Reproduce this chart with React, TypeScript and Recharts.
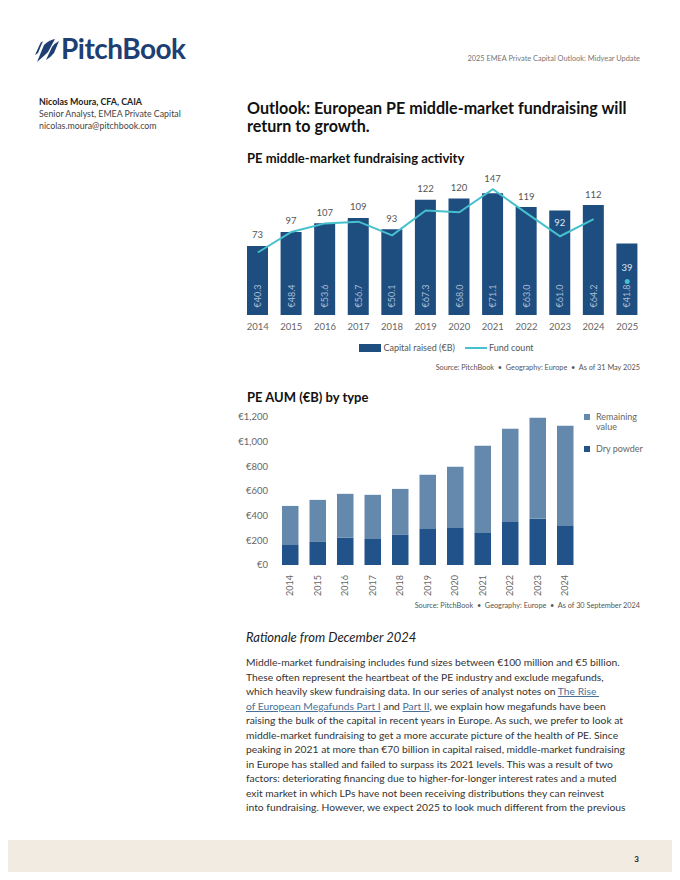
import React from 'react'
import {
  ComposedChart,
  BarChart,
  Bar,
  Line,
  XAxis,
  YAxis,
  Legend,
  LabelList,
} from 'recharts'

// PE middle-market fundraising activity
const years = ['2014', '2015', '2016', '2017', '2018', '2019', '2020', '2021', '2022', '2023', '2024', '2025']
const capitalRaised = [40.3, 48.4, 53.6, 56.7, 50.1, 67.3, 68.0, 71.1, 63.0, 61.0, 64.2, 41.8]
const fundCount = [73, 97, 107, 109, 93, 122, 120, 147, 119, 92, 112, 39]

// PE AUM by type
const aumYears = ['2014', '2015', '2016', '2017', '2018', '2019', '2020', '2021', '2022', '2023', '2024']
const dryPowder = [162, 187, 222, 211, 244, 292, 300, 260, 349, 374, 317]
const remainingValue = [317, 341, 355, 358, 373, 439, 496, 707, 756, 820, 812]
const aumTicks = [0, 200, 400, 600, 800, 1000, 1200]

const CAP_MAX = 80
const COUNT_MAX = 160
const lastYear = years.length - 1

const NAVY = '#1e4d80'
const TEAL = '#45c0cc'
const AUM_DARK = '#21528a'
const AUM_LIGHT = '#6588ad'
const GREY = '#666'
const FONT = 'Lato, "Open Sans", sans-serif'

const fundRows = years.map((year, i) => ({
  year,
  capital: capitalRaised[i],
  count: fundCount[i],
  line: i < lastYear ? fundCount[i] : null,
  partial: i === lastYear ? fundCount[i] : null,
}))

const aumRows = aumYears.map((year, i) => ({
  year,
  dry: dryPowder[i],
  remaining: remainingValue[i],
}))

const CapitalLabel = (props: any) => {
  const { x, y, width, height, value } = props
  const cx = x + width / 2
  const cy = y + height - 19
  return (
    <text
      x={cx}
      y={cy}
      transform={`rotate(-90 ${cx} ${cy})`}
      textAnchor="middle"
      dominantBaseline="central"
      fill="#a9bdd4"
      fontSize={9}
      fontFamily={FONT}
    >
      €{Number(value).toFixed(1)}
    </text>
  )
}

// fund count sits above the bar, or inside it when the line dips well below the bar top
const CountLabel = (props: any) => {
  const { x, y, width, height, value, index } = props
  const row = fundRows[index]
  if (!row) return null
  const base = y + height
  const lineY = base - value * (height / row.capital) * (CAP_MAX / COUNT_MAX)
  const inside = lineY - y > 20
  const cy = inside ? lineY - 14 : Math.min(y, lineY) - 11
  return (
    <text
      x={x + width / 2}
      y={cy}
      textAnchor="middle"
      dominantBaseline="central"
      fill={inside ? '#dfe6ee' : '#555'}
      fontSize={9.5}
      fontFamily={FONT}
    >
      {value}
    </text>
  )
}

const FundLegend = () => (
  <div style={{ display: 'flex', justifyContent: 'center', alignItems: 'center', fontSize: 9, color: '#555', fontFamily: FONT }}>
    <span style={{ width: 22, height: 8, background: NAVY, display: 'inline-block', marginRight: 2 }} />
    <span style={{ marginRight: 10 }}>Capital raised (€B)</span>
    <span style={{ width: 22, height: 2, background: TEAL, display: 'inline-block', marginRight: 2 }} />
    <span>Fund count</span>
  </div>
)

const AumLegend = () => (
  <div style={{ fontSize: 9, color: GREY, fontFamily: FONT, lineHeight: '10px', width: 60 }}>
    <div style={{ display: 'flex', alignItems: 'flex-start' }}>
      <span style={{ width: 6, height: 6, background: AUM_LIGHT, display: 'inline-block', marginRight: 6, marginTop: 2 }} />
      <span>Remaining<br />value</span>
    </div>
    <div style={{ display: 'flex', alignItems: 'flex-start', marginTop: 12 }}>
      <span style={{ width: 6, height: 6, background: AUM_DARK, display: 'inline-block', marginRight: 6, marginTop: 2 }} />
      <span>Dry powder</span>
    </div>
  </div>
)

const AumTick = (props: any) => {
  const { x, y, payload } = props
  const ty = y + 2
  return (
    <text
      x={x}
      y={ty}
      transform={`rotate(-90 ${x} ${ty})`}
      textAnchor="end"
      dominantBaseline="central"
      fill={GREY}
      fontSize={9}
      fontFamily={FONT}
    >
      {payload.value}
    </text>
  )
}

const Logo = () => (
  <svg width={24} height={24} viewBox="0 0 24 24" style={{ position: 'absolute', left: 35, top: 39 }}>
    <path d="M2 23 L9 6 Q14 1 20 0 L13 13 Q9 17 2 23 Z" fill="#1d3f73" />
    <path d="M11 21 L17 8 Q20 4 24 2 L19 14 Q16 18 11 21 Z" fill="#1d3f73" />
    <path d="M0 16 L5 5 Q6 3 8 2 L3 14 Z" fill="#1d3f73" />
  </svg>
)

const linkStyle = { color: '#4a6f96', textDecoration: 'underline' }

const bodyLines: React.ReactNode[] = [
  'Middle-market fundraising includes fund sizes between €100 million and €5 billion.',
  'These often represent the heartbeat of the PE industry and exclude megafunds,',
  <>which heavily skew fundraising data. In our series of analyst notes on <a style={linkStyle}>The Rise&nbsp;</a></>,
  <><a style={linkStyle}>of European Megafunds Part I</a> and <a style={linkStyle}>Part II</a>, we explain how megafunds have been</>,
  'raising the bulk of the capital in recent years in Europe. As such, we prefer to look at',
  'middle-market fundraising to get a more accurate picture of the health of PE. Since',
  'peaking in 2021 at more than €70 billion in capital raised, middle-market fundraising',
  'in Europe has stalled and failed to surpass its 2021 levels. This was a result of two',
  'factors: deteriorating financing due to higher-for-longer interest rates and a muted',
  'exit market in which LPs have not been receiving distributions they can reinvest',
  'into fundraising. However, we expect 2025 to look much different from the previous',
]

const T = (p: { x: number; y: number; size: number; children: React.ReactNode; weight?: number; color?: string; italic?: boolean; right?: boolean }) => (
  <div
    style={{
      position: 'absolute',
      top: p.y - p.size * 0.7,
      height: p.size * 1.4,
      lineHeight: `${p.size * 1.4}px`,
      ...(p.right ? { right: 680 - p.x, textAlign: 'right' as const } : { left: p.x }),
      fontSize: p.size,
      fontWeight: p.weight ?? 400,
      color: p.color ?? '#333',
      fontStyle: p.italic ? 'italic' : 'normal',
      whiteSpace: 'nowrap',
      fontFamily: FONT,
    }}
  >
    {p.children}
  </div>
)

export default function App() {
  return (
    <div style={{ position: 'relative', width: 680, height: 880, margin: -8, overflow: 'hidden', background: '#fff', fontFamily: FONT }}>
      <Logo />
      <div style={{ position: 'absolute', left: 61, top: 31, fontSize: 28, fontWeight: 700, color: '#1d3f73', letterSpacing: -0.5, fontFamily: FONT }}>
        PitchBook
      </div>
      <T x={640} y={59} size={7.4} color="#777" right>2025 EMEA Private Capital Outlook: Midyear Update</T>

      <T x={39} y={102} size={8.9} weight={700} color="#222">Nicolas Moura, CFA, CAIA</T>
      <T x={39} y={114} size={8.8} color="#444">Senior Analyst, EMEA Private Capital</T>
      <T x={39} y={126} size={8.8} color="#444">nicolas.moura@pitchbook.com</T>

      <T x={247} y={108} size={16.1} weight={700} color="#111">Outlook: European PE middle-market fundraising will</T>
      <T x={247} y={126} size={16.1} weight={700} color="#111">return to growth.</T>

      <T x={247} y={158} size={13} weight={700} color="#111">PE middle-market fundraising activity</T>

      <div style={{ position: 'absolute', left: 241, top: 170 }}>
        <ComposedChart width={403} height={200} data={fundRows} margin={{ top: 8, right: 0, bottom: 30, left: 0 }}>
          <XAxis
            dataKey="year"
            axisLine={false}
            tickLine={false}
            interval={0}
            height={25}
            tick={{ fill: GREY, fontSize: 9.5, fontFamily: FONT }}
          />
          <YAxis yAxisId="cap" hide domain={[0, CAP_MAX]} />
          <YAxis yAxisId="cnt" hide orientation="right" domain={[0, COUNT_MAX]} />
          <Legend
            layout="vertical"
            align="center"
            verticalAlign="middle"
            wrapperStyle={{ top: 172, left: 4, width: 403 }}
            content={() => <FundLegend />}
          />
          <Bar yAxisId="cap" dataKey="capital" name="Capital raised (€B)" fill={NAVY} barSize={21} isAnimationActive={false}>
            <LabelList dataKey="capital" content={CapitalLabel} />
            <LabelList dataKey="count" content={CountLabel} />
          </Bar>
          <Line yAxisId="cnt" dataKey="line" name="Fund count" stroke={TEAL} strokeWidth={2} dot={false} type="linear" isAnimationActive={false} />
          <Line
            yAxisId="cnt"
            dataKey="partial"
            legendType="none"
            stroke={TEAL}
            strokeWidth={0}
            dot={{ r: 2.5, fill: TEAL, stroke: TEAL, strokeWidth: 0 }}
            isAnimationActive={false}
          />
        </ComposedChart>
      </div>
      <T x={640} y={368} size={7.3} color="#555" right>Source: PitchBook&nbsp; •&nbsp; Geography: Europe&nbsp; •&nbsp; As of 31 May 2025</T>

      <T x={247} y={397} size={13} weight={700} color="#111">PE AUM (€B) by type</T>

      <div style={{ position: 'absolute', left: 232, top: 405 }}>
        <BarChart width={408} height={195} data={aumRows} margin={{ top: 12, right: 61.5, bottom: 0, left: 0 }}>
          <XAxis dataKey="year" axisLine={false} tickLine={false} interval={0} height={35} tick={<AumTick />} />
          <YAxis
            width={44}
            domain={[0, 1200]}
            ticks={aumTicks}
            axisLine={false}
            tickLine={false}
            tick={{ fill: GREY, fontSize: 9.5, fontFamily: FONT }}
            tickFormatter={(v: number) => `€${v.toLocaleString('en-US')}`}
          />
          <Legend
            layout="vertical"
            align="center"
            verticalAlign="middle"
            wrapperStyle={{ top: 7, left: 352, width: 60 }}
            content={() => <AumLegend />}
          />
          <Bar dataKey="dry" name="Dry powder" stackId="a" fill={AUM_DARK} barSize={16.5} isAnimationActive={false} />
          <Bar dataKey="remaining" name="Remaining value" stackId="a" fill={AUM_LIGHT} barSize={16.5} isAnimationActive={false} />
        </BarChart>
      </div>
      <T x={640} y={606} size={7.3} color="#555" right>Source: PitchBook&nbsp; •&nbsp; Geography: Europe&nbsp; •&nbsp; As of 30 September 2024</T>

      <T x={246} y={637} size={13} italic color="#222">Rationale from December 2024</T>
      {bodyLines.map((line, i) => (
        <T key={i} x={246} y={662.7 + i * 14.47} size={10.3} color="#333">{line}</T>
      ))}

      <div style={{ position: 'absolute', left: 0, top: 840, width: 680, height: 40, background: '#f1ebe1' }} />
      <T x={639} y={860} size={8} weight={700} color="#222" right>3</T>
    </div>
  )
}
